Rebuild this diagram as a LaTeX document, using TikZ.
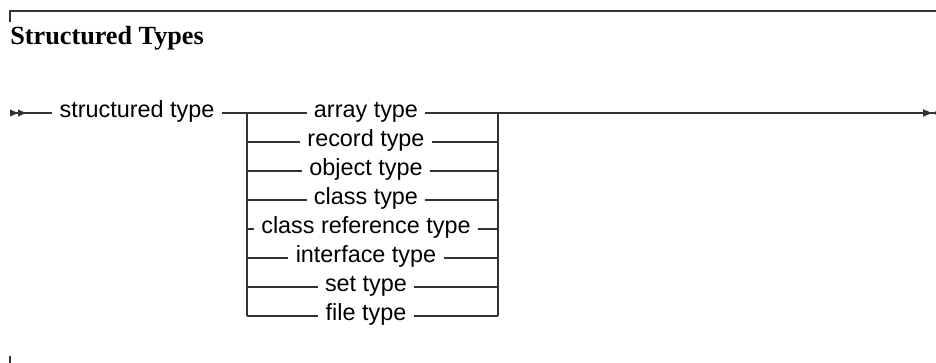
\documentclass[tikz,border=0pt]{standalone}
\usepackage{fontspec}
\setmainfont{Liberation Serif}
\setsansfont{Liberation Sans}
\usetikzlibrary{arrows.meta}
\begin{document}
\begin{tikzpicture}[x=0.5pt,y=-0.5pt,
    rail/.style={draw=black!80,line width=0.6pt},
    word/.style={anchor=mid,inner xsep=3.5pt,font=\sffamily\fontsize{11.7}{14}\selectfont}]
  \useasboundingbox (0,0) rectangle (936,363);
  % frame ticks
  \draw [rail] (10,22) -- (10,11) -- (945,11);
  \draw [rail] (10,356) -- (10,370);
  \node (title) [anchor=base west,inner sep=0pt,font=\bfseries\fontsize{13.1}{15}\selectfont] at (10,45) {Structured Types};
  % main line
  \coordinate (start) at (10,113);
  \coordinate (stop) at (941,113);
  \node (st) [word] at (137,113) {structured type};
  \coordinate (l0) at (247,113);
  \coordinate (r0) at (498,113);
  \draw [rail,{Triangle[length=4pt,width=3.4pt,reversed]Triangle[length=4pt,width=3.4pt,reversed]}-] (start) -- (st.mid west);
  \draw [rail] (st.mid east) -- (l0);
  \draw [rail,-{Triangle[length=4.5pt,width=3.6pt]Triangle[length=4.5pt,width=3.6pt,reversed]}] (r0) -- (stop);
  % alternatives
  \foreach \name/\txt [count=\i from 0] in {arr/array type,rec/record type,obj/object type,cls/class type,clsref/class reference type,intf/interface type,set/set type,file/file type} {
    \node (\name) [word] at (366,113+\i*29) {\txt};
    \coordinate (l\i) at (247,113+\i*29);
    \coordinate (r\i) at (498,113+\i*29);
    \draw [rail] (l\i) -- (\name.mid west);
    \draw [rail] (\name.mid east) -- (r\i);
  }
  \draw [rail] (l0) -- (l7);
  \draw [rail] (r0) -- (r7);
\end{tikzpicture}
\end{document}
